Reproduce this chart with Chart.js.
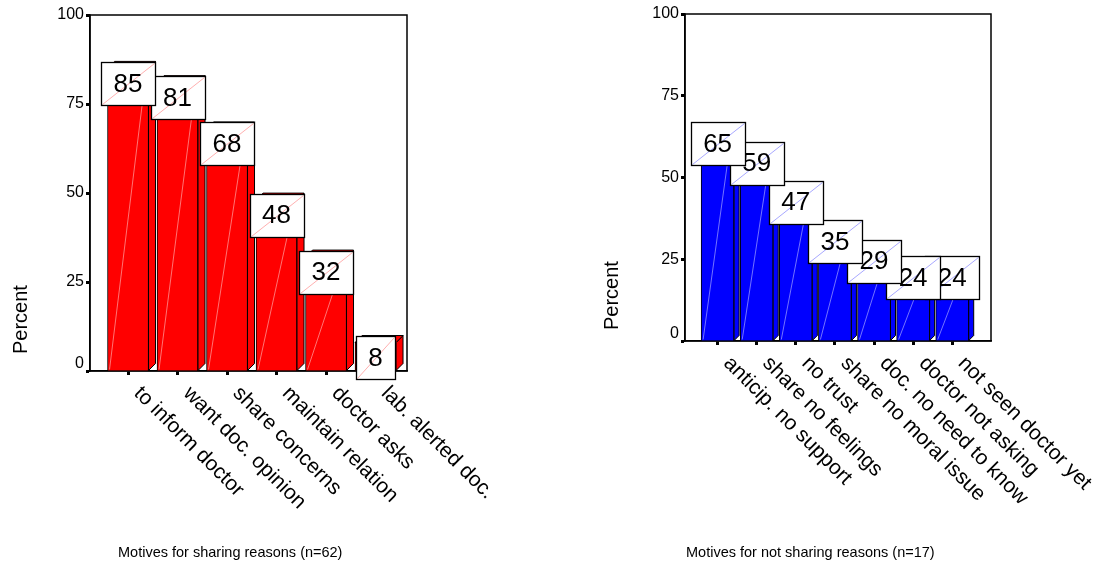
<!DOCTYPE html>
<html><head><meta charset="utf-8">
<script src="https://cdn.jsdelivr.net/npm/chart.js@4.4.1/dist/chart.umd.min.js"></script>
<style>
html,body{margin:0;padding:0;background:#fff;}
#wrap{position:relative;width:1098px;height:567px;overflow:hidden;background:#fff;}
canvas{position:absolute;top:0;}
</style></head><body>
<div id="wrap">
<canvas id="c1" width="549" height="567" style="left:0"></canvas>
<canvas id="c2" width="549" height="567" style="left:549px"></canvas>
</div>
<script>
// ---- data ----
const sharingCategories = ['to inform doctor','want doc. opinion','share concerns','maintain relation','doctor asks','lab. alerted doc.'];
const sharingValues = [85, 81, 68, 48, 32, 8];
const notSharingCategories = ['anticip. no support','share no feelings','no trust','share no moral issue','doc. no need to know','doctor not asking','not seen doctor yet'];
const notSharingValues = [65, 59, 47, 35, 29, 24, 24];
const yTickValues = [0, 25, 50, 75, 100];
const sharingTitle = 'Motives for sharing reasons (n=62)';
const notSharingTitle = 'Motives for not sharing reasons (n=17)';
const yAxisLabel = 'Percent';

const FONT = '"Liberation Sans", Arial, sans-serif';
const F = {tick: 16, percent: 20, xlab: 21, title: 14.5, value: 26};

function makeChart(canvas, cfg) {
  const W = 549, H = 567;
  const a = cfg.area;
  const deco = {
    id: 'deco',
    beforeDatasetsDraw(chart) {
      const ctx = chart.ctx, ca = chart.chartArea;
      ctx.save();
      ctx.strokeStyle = '#000';
      ctx.lineWidth = 1.5;
      ctx.strokeRect(ca.left, ca.top, ca.right - ca.left, ca.bottom - ca.top);
      ctx.restore();
    },
    afterDatasetsDraw(chart) {
      const ctx = chart.ctx;
      const meta = chart.getDatasetMeta(0);
      const d = cfg.depth;
      ctx.save();
      ctx.lineWidth = 1;
      ctx.strokeStyle = '#000';
      meta.data.forEach((el) => {
        const p = el.getProps(['x','y','base','width'], true);
        const l = p.x - p.width / 2, r = p.x + p.width / 2, t = p.y, b = p.base;
        // side face
        ctx.beginPath();
        ctx.moveTo(r, b); ctx.lineTo(r + d, b - d); ctx.lineTo(r + d, t - d); ctx.lineTo(r, t); ctx.closePath();
        ctx.fillStyle = cfg.color; ctx.fill(); ctx.stroke();
        // top face
        ctx.beginPath();
        ctx.moveTo(l, t); ctx.lineTo(l + d, t - d); ctx.lineTo(r + d, t - d); ctx.lineTo(r, t); ctx.closePath();
        ctx.fillStyle = cfg.color; ctx.fill(); ctx.stroke();
        // faint sheen line
        ctx.beginPath();
        ctx.moveTo(l + 2, b - 1); ctx.lineTo(r - 2, t + 1);
        ctx.strokeStyle = 'rgba(255,255,255,0.45)';
        ctx.stroke();
        ctx.strokeStyle = '#000';
      });
      // value boxes, right to left so that earlier boxes lie on top
      const vals = cfg.vals;
      ctx.font = F.value + 'px ' + FONT;
      for (let i = meta.data.length - 1; i >= 0; i--) {
        const p = meta.data[i].getProps(['x','y'], true);
        const txt = String(vals[i]);
        const bw = Math.round(ctx.measureText(txt).width + 25), bh = 43;
        const cx = p.x, cy = p.y + 15;
        const x0 = Math.round(cx - bw / 2) + 0.5, y0 = Math.round(cy - bh / 2) + 0.5;
        ctx.fillStyle = '#fff';
        ctx.fillRect(x0, y0, bw, bh);
        ctx.beginPath();
        ctx.moveTo(x0 + 1, y0 + bh - 1); ctx.lineTo(x0 + bw - 1, y0 + 1);
        ctx.strokeStyle = cfg.boxLine; ctx.lineWidth = 1; ctx.stroke();
        ctx.strokeStyle = '#000'; ctx.lineWidth = 1.3;
        ctx.strokeRect(x0, y0, bw, bh);
        ctx.fillStyle = '#000';
        ctx.textAlign = 'center'; ctx.textBaseline = 'middle';
        ctx.fillText(txt, cx, cy + 1);
      }
      ctx.restore();
    },
    afterDraw(chart) {
      const ctx = chart.ctx, ca = chart.chartArea;
      const xs = chart.scales.x;
      ctx.save();
      ctx.fillStyle = '#000';
      ctx.font = F.xlab + 'px ' + FONT;
      ctx.textAlign = 'left'; ctx.textBaseline = 'middle';
      cfg.cats.forEach((c, i) => {
        const px = xs.getPixelForValue(i);
        ctx.save();
        ctx.translate(px, ca.bottom + 10);
        ctx.rotate(Math.PI / 4);
        ctx.fillText(c, 13, 0);
        ctx.restore();
      });
      // axis title
      ctx.save();
      ctx.font = F.percent + 'px ' + FONT;
      ctx.translate(cfg.percentX, ca.bottom - cfg.percentGap);
      ctx.rotate(-Math.PI / 2);
      ctx.textAlign = 'left'; ctx.textBaseline = 'middle';
      ctx.fillText(yAxisLabel, 0, 0);
      ctx.restore();
      // bottom title
      ctx.font = F.title + 'px ' + FONT;
      ctx.textAlign = 'left'; ctx.textBaseline = 'middle';
      ctx.fillText(cfg.title, cfg.titleX, 553);
      ctx.restore();
    }
  };

  return new Chart(canvas, {
    type: 'bar',
    data: {
      datasets: [{
        data: cfg.vals.map((v, i) => ({x: i, y: v})),
        backgroundColor: cfg.color,
        borderColor: '#000',
        borderWidth: 1,
        barThickness: cfg.barW
      }]
    },
    options: {
      responsive: false,
      animation: false,
      devicePixelRatio: 1,
      layout: {padding: {left: 0, right: W - a.right, top: a.top, bottom: 0}},
      plugins: {legend: {display: false}, tooltip: {enabled: false}, title: {display: false}},
      scales: {
        x: {
          type: 'linear',
          offset: false,
          min: cfg.xmin, max: cfg.xmax,
          afterBuildTicks(s) { s.ticks = cfg.cats.map((c, i) => ({value: i})); },
          ticks: {display: false},
          grid: {drawOnChartArea: false, drawTicks: true, tickLength: 4, tickWidth: 3, tickColor: '#000', offset: false},
          border: {display: true, color: '#000', width: 1.5},
          afterFit(s) { s.height = H - a.bottom; }
        },
        y: {
          min: 0, max: 100,
          afterBuildTicks(s) { s.ticks = yTickValues.map(v => ({value: v})); },
          ticks: {
            color: '#000', padding: 2,
            font: {family: FONT, size: F.tick, lineHeight: 0.9},
            callback: (v) => v === 0 ? ['0', ''] : String(v)
          },
          grid: {drawOnChartArea: false, drawTicks: true, tickLength: 4, tickWidth: 3, tickColor: '#000'},
          border: {display: true, color: '#000', width: 1.5},
          afterFit(s) { s.width = a.left; }
        }
      }
    },
    plugins: [deco]
  });
}

makeChart(document.getElementById('c1'), {
  cats: sharingCategories, vals: sharingValues,
  color: '#ff0000', boxLine: '#ffb0b0',
  area: {left: 90, right: 407, top: 15, bottom: 371},
  xmin: -0.768, xmax: 5.636, barW: 41, depth: 7,
  title: sharingTitle, titleX: 118, percentX: 21, percentGap: 17
});
makeChart(document.getElementById('c2'), {
  cats: notSharingCategories, vals: notSharingValues,
  color: '#0000ff', boxLine: '#a8a8ff',
  area: {left: 136, right: 442, top: 14, bottom: 341},
  xmin: -0.834, xmax: 6.992, barW: 33, depth: 5,
  title: notSharingTitle, titleX: 137, percentX: 63, percentGap: 11
});
</script>
</body></html>
